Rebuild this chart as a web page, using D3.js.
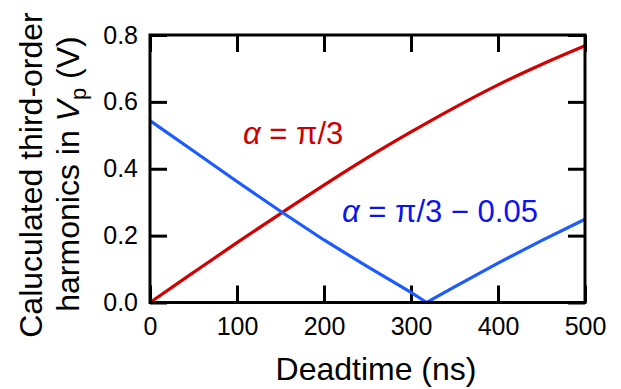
<!DOCTYPE html>
<html>
<head>
<meta charset="utf-8">
<script src="https://cdn.jsdelivr.net/npm/d3@7"></script>
<style>
  body { margin: 0; background: #fff; }
  text { font-family: "Liberation Sans", Arial, sans-serif; }
</style>
</head>
<body>
<div class="chart"></div>
<script>
// data
var deadtime = [0, 50, 100, 150, 200, 250, 300, 350, 400, 450, 500];
var redVals  = [0, 0.090, 0.179, 0.266, 0.351, 0.433, 0.510, 0.583, 0.651, 0.712, 0.768];

var blueTime = [0, 50, 100, 150, 200, 250, 300, 318, 350, 400, 450, 500];
var blueVals = [0.544, 0.453, 0.362, 0.273, 0.187, 0.107, 0.030, 0, 0.047, 0.118, 0.185, 0.249];

var xTicks = [0, 100, 200, 300, 400, 500];
var yTicks = [0, 0.2, 0.4, 0.6, 0.8];

var svgWidth = 621;
var svgHeight = 389;

var margin = { top: 35, right: 36, bottom: 86.5, left: 150 };
var width = svgWidth - margin.left - margin.right;
var height = svgHeight - margin.top - margin.bottom;

var svg = d3.select(".chart")
  .append("svg")
  .attr("width", svgWidth)
  .attr("height", svgHeight);

var chartGroup = svg.append("g")
  .attr("transform", `translate(${margin.left}, ${margin.top})`);

var xScale = d3.scaleLinear().domain([0, 500]).range([0, width]);
var yScale = d3.scaleLinear().domain([0, 0.8]).range([height, 0]);

var tickLen = 17;

// axes, ticks pointing inside
var bottomAxis = d3.axisBottom(xScale).tickValues(xTicks)
  .tickSizeInner(-tickLen).tickSizeOuter(0).tickPadding(15)
  .tickFormat(d3.format("d"));
var leftAxis = d3.axisLeft(yScale).tickValues(yTicks)
  .tickSizeInner(-tickLen).tickSizeOuter(0).tickPadding(12)
  .tickFormat(d3.format(".1f"));
var topAxis = d3.axisTop(xScale).tickValues(xTicks)
  .tickSizeInner(-tickLen).tickSizeOuter(0).tickFormat("");
var rightAxis = d3.axisRight(yScale).tickValues(yTicks)
  .tickSizeInner(-tickLen).tickSizeOuter(0).tickFormat("");

function styleAxis(g) {
  g.select(".domain").remove();
  g.selectAll(".tick line").attr("stroke", "#000").attr("stroke-width", 3);
  g.selectAll(".tick text").attr("fill", "#000").style("font-size", "25px");
}

chartGroup.append("g").attr("transform", `translate(0, ${height})`).call(bottomAxis).call(styleAxis);
chartGroup.append("g").call(leftAxis).call(styleAxis);
chartGroup.append("g").call(topAxis).call(styleAxis);
chartGroup.append("g").attr("transform", `translate(${width}, 0)`).call(rightAxis).call(styleAxis);

// lines
var redLine = d3.line()
  .x((d, i) => xScale(deadtime[i]))
  .y(d => yScale(d))
  .curve(d3.curveMonotoneX);

var blueLine = d3.line()
  .x((d, i) => xScale(blueTime[i]))
  .y(d => yScale(d));

chartGroup.append("path")
  .datum(redVals)
  .attr("d", redLine)
  .attr("fill", "none")
  .attr("stroke", "#d40000")
  .attr("stroke-width", 3.2);

chartGroup.append("path")
  .datum(blueVals)
  .attr("d", blueLine)
  .attr("fill", "none")
  .attr("stroke", "#1c5cff")
  .attr("stroke-width", 3.2);

// frame
chartGroup.append("rect")
  .attr("width", width)
  .attr("height", height)
  .attr("fill", "none")
  .attr("stroke", "#000")
  .attr("stroke-width", 3);

// annotations
var redLabel = svg.append("text")
  .attr("x", 243)
  .attr("y", 144)
  .attr("fill", "#cc0000")
  .style("font-size", "31px");
redLabel.append("tspan").style("font-style", "italic").text("α");
redLabel.append("tspan").text(" = π/3");

var blueLabel = svg.append("text")
  .attr("x", 342)
  .attr("y", 222)
  .attr("fill", "#0a14f0")
  .style("font-size", "31px");
blueLabel.append("tspan").style("font-style", "italic").text("α");
blueLabel.append("tspan").text(" = π/3 − 0.05");

// axis titles
svg.append("text")
  .attr("x", 376)
  .attr("y", 380)
  .attr("text-anchor", "middle")
  .style("font-size", "32px")
  .text("Deadtime (ns)");

var yTitle1 = svg.append("text")
  .attr("transform", "translate(42, 175) rotate(-90)")
  .attr("text-anchor", "middle")
  .style("font-size", "32px")
  .text("Caluculated third-order");

var yTitle2 = svg.append("text")
  .attr("transform", "translate(79, 174) rotate(-90)")
  .attr("text-anchor", "middle")
  .style("font-size", "32px");
yTitle2.append("tspan").text("harmonics in ");
yTitle2.append("tspan").style("font-style", "italic").text("V");
yTitle2.append("tspan").attr("dy", "0.3em").style("font-size", "22px").text("p");
yTitle2.append("tspan").attr("dy", "-0.2em").text(" (V)");
</script>
</body>
</html>
